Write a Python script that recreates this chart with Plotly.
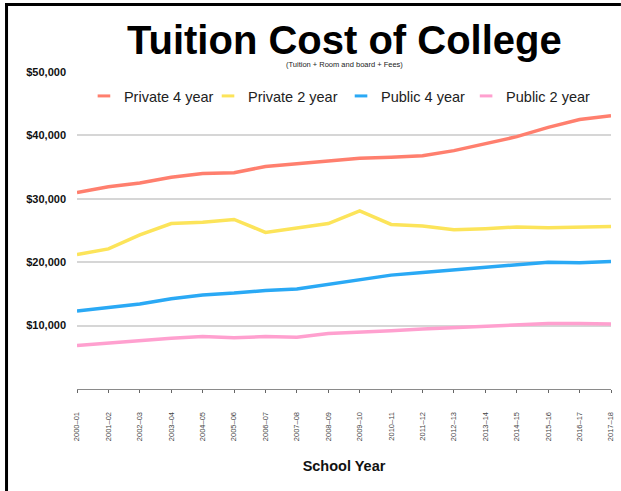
import plotly.graph_objects as go

years = ["2000–01", "2001–02", "2002–03", "2003–04", "2004–05", "2005–06",
         "2006–07", "2007–08", "2008–09", "2009–10", "2010–11", "2011–12",
         "2012–13", "2013–14", "2014–15", "2015–16", "2016–17", "2017–18"]

private_4 = [31000, 31900, 32500, 33400, 34000, 34100, 35100, 35500, 35950,
             36400, 36550, 36780, 37600, 38660, 39800, 41270, 42500, 43100]
private_2 = [21200, 22100, 24300, 26100, 26300, 26750, 24700, 25400, 26100,
             28100, 25950, 25700, 25130, 25290, 25550, 25440, 25500, 25650]
public_4 = [12300, 12880, 13400, 14240, 14820, 15130, 15550, 15760, 16500,
            17280, 17960, 18380, 18800, 19170, 19580, 20000, 19900, 20100]
public_2 = [6870, 7230, 7700, 8020, 8280, 8070, 8280, 8180, 8750,
            8900, 9170, 9480, 9690, 9850, 10110, 10320, 10320, 10270]

series_names = ["Private 4 year", "Private 2 year", "Public 4 year", "Public 2 year"]
series_values = [private_4, private_2, public_4, public_2]
colors = ["#FF7F6E", "#FCE45A", "#2AA9F5", "#FFA0CF"]

y_tickvals = [10000, 20000, 30000, 40000, 50000]
y_ticktext = ["$10,000", "$20,000", "$30,000", "$40,000", "$50,000"]

L, R, T, B = 77, 6, 72, 102
W, H = 621, 491
pw, ph = W - L - R, H - T - B

def px_x(px):
    return (px - L) / pw

def px_y(py):
    return (H - B - py) / ph

legend_ids = ["legend", "legend2", "legend3", "legend4"]
legend_px = [84, 209, 343, 469]

fig = go.Figure()
for name, vals, col in zip(series_names, series_values, colors):
    fig.add_trace(go.Scatter(x=years, y=vals, mode="lines", name=name,
                             line=dict(color=col, width=3.5), showlegend=False))
# legend entries with short line glyphs
for name, col, lid in zip(series_names, colors, legend_ids):
    fig.add_trace(go.Scatter(x=[None], y=[None], mode="markers", name=name,
                             legend=lid,
                             marker=dict(symbol="line-ew", size=9,
                                         line=dict(color=col, width=3))))

legend_layouts = {}
for lid, lx in zip(legend_ids, legend_px):
    legend_layouts[lid] = dict(orientation="h", x=px_x(lx), xanchor="left",
                               y=px_y(96), yanchor="middle",
                               bgcolor="rgba(0,0,0,0)",
                               font=dict(size=14.5, color="#222"),
                               itemsizing="trace")

fig.update_layout(
    width=W, height=H,
    margin=dict(l=L, r=R, t=T, b=B),
    paper_bgcolor="white", plot_bgcolor="white",
    font=dict(family="Liberation Sans, Arial, sans-serif", color="#222"),
    showlegend=True,
    xaxis=dict(type="category", range=[0, 17], showgrid=False,
               showline=True, linecolor="#8a8a8a", linewidth=1,
               ticks="outside", ticklen=3, tickcolor="#666", tickwidth=1,
               tickangle=-90, ticklabelstandoff=16,
               tickfont=dict(size=7.5, color="#444"),
               title=dict(text="<b>School Year</b>", font=dict(size=14.5, color="#111"),
                          standoff=20)),
    yaxis=dict(range=[0, 50000], tickvals=y_tickvals, ticktext=y_ticktext,
               showgrid=True, gridcolor="#d6d6d6", gridwidth=1.5,
               zeroline=False, showline=False, ticks="",
               ticklabelstandoff=10,
               tickfont=dict(size=11, color="#111", weight="bold")),
    annotations=[
        dict(text="<b>Tuition Cost of College</b>", xref="paper", yref="paper",
             x=0.5, y=px_y(40), xanchor="center", yanchor="middle",
             showarrow=False, font=dict(size=40, color="black")),
        dict(text="(Tuition + Room and board + Fees)", xref="paper", yref="paper",
             x=0.5, y=px_y(64.5), xanchor="center", yanchor="middle",
             showarrow=False, font=dict(size=7.5, color="#222")),
    ],
    shapes=[
        dict(type="line", xref="paper", yref="paper", x0=px_x(6), x1=px_x(6),
             y0=px_y(3), y1=px_y(495), line=dict(color="black", width=3)),
        dict(type="line", xref="paper", yref="paper", x0=px_x(4.5), x1=px_x(625),
             y0=px_y(4.5), y1=px_y(4.5), line=dict(color="black", width=3)),
    ],
    **legend_layouts,
)

fig.write_html("out.html", config={"displayModeBar": False},
               post_script="document.body.style.margin='0';document.body.style.overflow='hidden';")
